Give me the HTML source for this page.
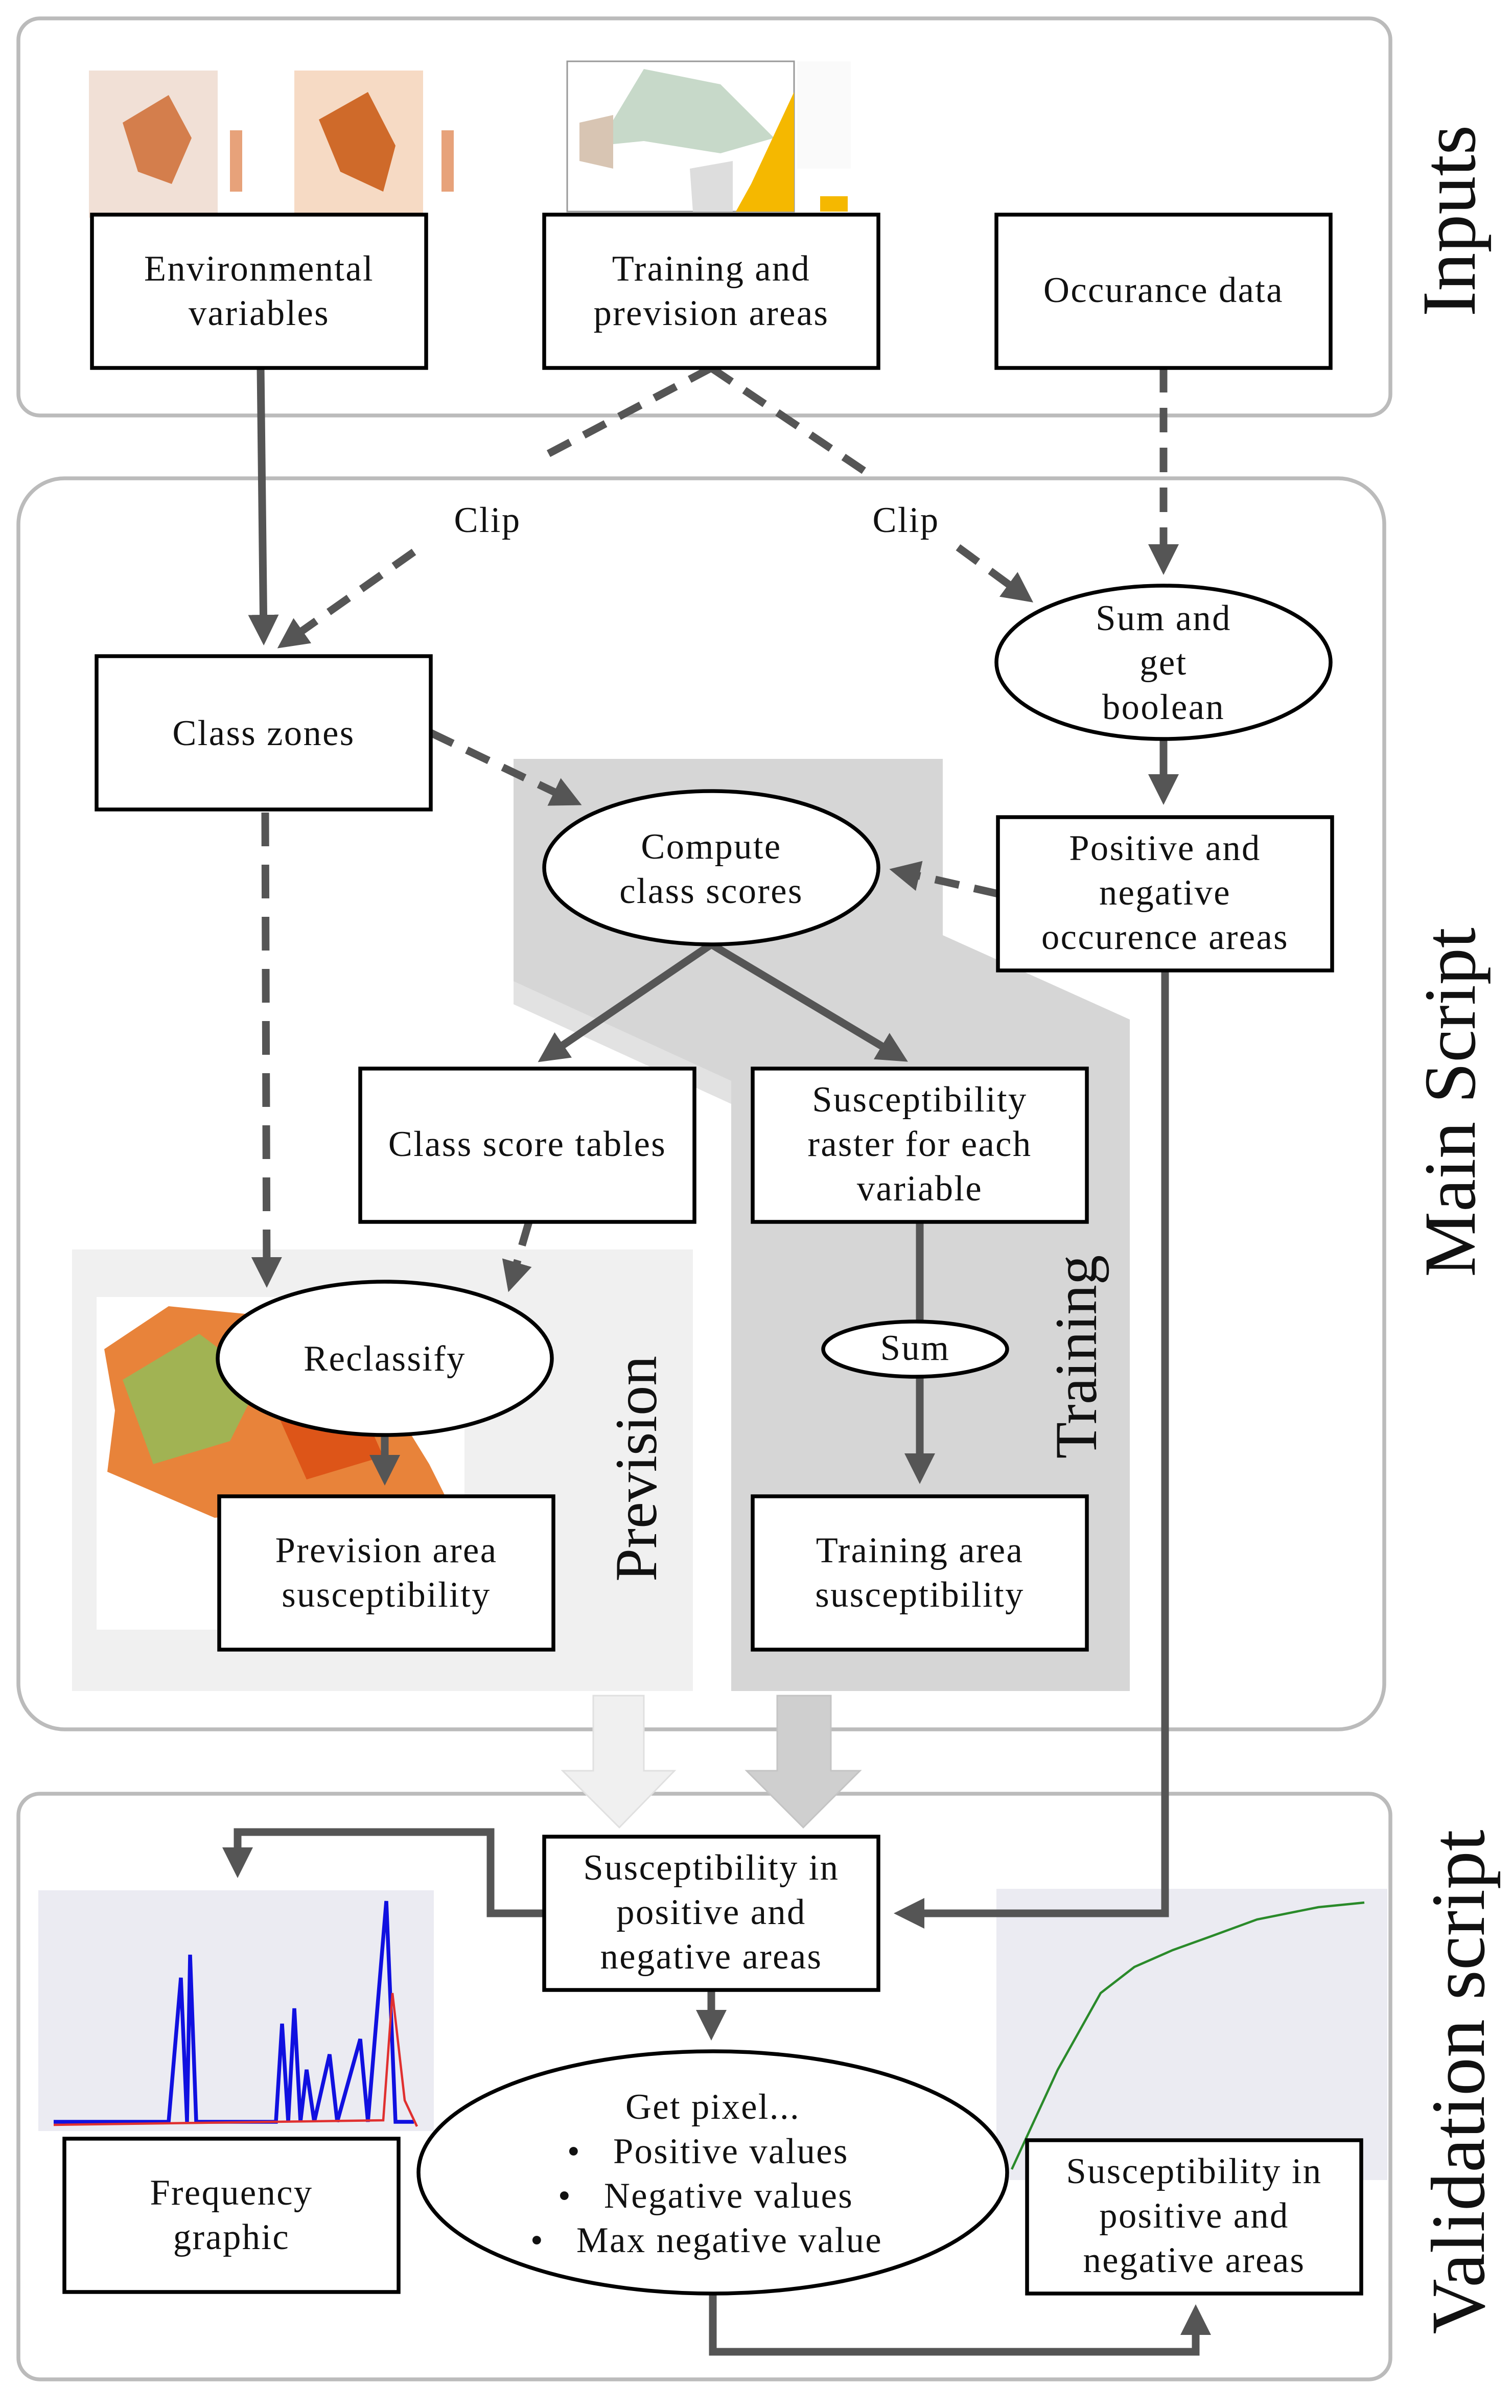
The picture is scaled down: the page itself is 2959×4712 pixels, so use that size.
<!DOCTYPE html>
<html><head><meta charset="utf-8"><style>
html,body{margin:0;padding:0;background:#fff}
svg{display:block}
text{font-family:"Liberation Serif",serif;fill:#111}
</style></head><body>
<svg width="2959" height="4712" viewBox="0 0 986.33 1570.67" xmlns="http://www.w3.org/2000/svg">
<defs>
<marker id="ah" markerWidth="4" markerHeight="4" refX="3" refY="2" orient="auto" markerUnits="strokeWidth"><path d="M0,0 L4,2 L0,4 z" fill="#555"/></marker>
</defs>
<!-- panels -->
<rect x="12" y="12" width="895" height="259" rx="14" fill="#fff" stroke="#bbb" stroke-width="2.5"/>
<rect x="12" y="312" width="891" height="816" rx="30" fill="#fff" stroke="#bbb" stroke-width="2.5"/>
<rect x="12" y="1170" width="895" height="382" rx="14" fill="#fff" stroke="#bbb" stroke-width="2.5"/>
<text transform="translate(962,144) rotate(-90)" font-size="50" text-anchor="middle">Inputs</text>
<text transform="translate(962,719) rotate(-90)" font-size="48" text-anchor="middle">Main Script</text>
<text transform="translate(968,1358) rotate(-90)" font-size="50" text-anchor="middle">Validation script</text>

<!-- input images -->
<rect x="58" y="46" width="84" height="96" fill="#f1e0d6"/>
<path d="M80,80 L110,62 L125,90 L112,120 L90,112 Z" fill="#d47e4c"/>
<rect x="192" y="46" width="84" height="96" fill="#f6dac4"/>
<path d="M208,78 L240,60 L258,95 L250,125 L222,112 Z" fill="#cf6a2a"/>
<rect x="150" y="85" width="8" height="40" fill="#e7a27a"/>
<rect x="288" y="85" width="8" height="40" fill="#e7a27a"/>
<rect x="370" y="40" width="148" height="98" fill="#fff" stroke="#999"/>
<path d="M390,95 L420,45 L470,55 L505,90 L470,100 L420,92 Z" fill="#c7d9c9"/>
<path d="M378,80 L400,75 L400,110 L378,105 Z" fill="#d8c5b3"/>
<path d="M490,120 L518,60 L518,138 L480,138 Z" fill="#f5b800"/>
<path d="M450,110 L478,105 L478,138 L452,138 Z" fill="#ddd"/>
<rect x="520" y="40" width="35" height="70" fill="#fafafa"/>
<rect x="535" y="128" width="18" height="10" fill="#f5b800"/>

<!-- main script shading -->
<rect x="47" y="815" width="405" height="288" fill="#f0f0f0"/>
<polygon points="335,495 615,495 615,610 737,665 737,1103 477,1103 477,720 335,655" fill="#d6d6d6"/>
<polygon points="335,655 477,720 477,705 335,640" fill="#e2e2e2"/>
<rect x="63" y="846" width="240" height="217" fill="#fff"/>
<path d="M68,880 L110,852 L170,858 L240,890 L280,955 L290,975 L240,975 L200,985 L140,990 L105,975 L70,960 L75,920 Z" fill="#e8833a"/>
<path d="M80,900 L130,870 L170,900 L150,940 L100,955 Z" fill="#8fbf5a" opacity="0.8"/>
<path d="M180,920 L230,905 L250,950 L200,965 Z" fill="#d94a10" opacity="0.8"/>

<!-- charts -->
<rect x="25" y="1233" width="258" height="157" fill="#ebebf2"/>
<polyline points="35,1384 110,1384 118,1290 122,1384 124,1275 128,1384 180,1384 184,1320 188,1384 192,1310 196,1384 200,1350 205,1384 215,1340 220,1384 235,1330 240,1384 252,1240 258,1384 270,1384" fill="none" stroke="#1010e0" stroke-width="2.5"/>
<polyline points="35,1386 250,1383 256,1300 264,1370 272,1387" fill="none" stroke="#e03030" stroke-width="1.5"/>
<rect x="650" y="1232" width="255" height="190" fill="#ebebf2"/>
<polyline points="660,1415 690,1350 718,1300 740,1283 765,1272 790,1263 820,1252 860,1244 890,1241" fill="none" stroke="#2a8a2a" stroke-width="1.5"/>

<!-- connectors -->
<g stroke="#555" stroke-width="5" fill="none">
<line x1="170" y1="240" x2="172" y2="416" marker-end="url(#ah)"/>
<polyline points="464,240 350,300" stroke-dasharray="16,10"/>
<line x1="270" y1="360" x2="185" y2="420" stroke-dasharray="16,10" marker-end="url(#ah)"/>
<polyline points="464,240 565,308" stroke-dasharray="16,10"/>
<line x1="625" y1="357" x2="670" y2="390" stroke-dasharray="16,10" marker-end="url(#ah)"/>
<line x1="759" y1="240" x2="759" y2="370" stroke-dasharray="16,10" marker-end="url(#ah)"/>
<line x1="759" y1="482" x2="759" y2="520" marker-end="url(#ah)"/>
<line x1="651" y1="583" x2="585" y2="568" stroke-dasharray="16,10" marker-end="url(#ah)"/>
<line x1="281" y1="478" x2="375" y2="523" stroke-dasharray="16,10" marker-end="url(#ah)"/>
<line x1="173" y1="530" x2="174" y2="835" stroke-dasharray="22,12" marker-end="url(#ah)"/>
<line x1="464" y1="616" x2="355" y2="690" marker-end="url(#ah)"/>
<line x1="464" y1="616" x2="588" y2="690" marker-end="url(#ah)"/>
<line x1="345" y1="797" x2="333" y2="838" stroke-dasharray="16,10" marker-end="url(#ah)"/>
<line x1="251" y1="936" x2="251" y2="964" marker-end="url(#ah)"/>
<line x1="600" y1="797" x2="600" y2="862"/>
<line x1="600" y1="898" x2="600" y2="963" marker-end="url(#ah)"/>
<polyline points="760,633 760,1248 588,1248" marker-end="url(#ah)"/>
<polyline points="355,1248 320,1248 320,1195 155,1195 155,1220" marker-end="url(#ah)"/>
<line x1="464" y1="1298" x2="464" y2="1326" marker-end="url(#ah)"/>
<polyline points="465,1496 465,1534 780,1534 780,1508" marker-end="url(#ah)"/>
</g>
<text x="318" y="347" font-size="23.5" letter-spacing="0.8" text-anchor="middle">Clip</text>
<text x="591" y="347" font-size="23.5" letter-spacing="0.8" text-anchor="middle">Clip</text>

<!-- big arrows -->
<polygon points="387,1106 420,1106 420,1155 440,1155 404,1192 367,1155 387,1155" fill="#f0f0f0" stroke="#e0e0e0"/>
<polygon points="507,1106 542,1106 542,1155 561,1155 524,1192 487,1155 507,1155" fill="#cfcfcf" stroke="#c4c4c4"/>

<!-- nodes -->
<g stroke="#000" stroke-width="2.5" fill="#fff">
<rect x="60" y="140" width="218" height="100"/>
<rect x="355" y="140" width="218" height="100"/>
<rect x="650" y="140" width="218" height="100"/>
<rect x="63" y="428" width="218" height="100"/>
<ellipse cx="759" cy="432" rx="109" ry="50"/>
<rect x="651" y="533" width="218" height="100"/>
<ellipse cx="464" cy="566" rx="109" ry="50"/>
<rect x="235" y="697" width="218" height="100"/>
<rect x="491" y="697" width="218" height="100"/>
<ellipse cx="251" cy="886" rx="109" ry="50"/>
<rect x="143" y="976" width="218" height="100"/>
<ellipse cx="597" cy="880" rx="60" ry="18"/>
<rect x="491" y="976" width="218" height="100"/>
<rect x="355" y="1198" width="218" height="100"/>
<rect x="42" y="1395" width="218" height="100"/>
<ellipse cx="465" cy="1417" rx="192" ry="79"/>
<rect x="670" y="1396" width="218" height="100"/>
</g>
<g font-size="23.5" letter-spacing="0.8" text-anchor="middle">
<text x="169" y="183">Environmental</text><text x="169" y="212">variables</text>
<text x="464" y="183">Training and</text><text x="464" y="212">prevision areas</text>
<text x="759" y="197">Occurance data</text>
<text x="172" y="486">Class zones</text>
<text x="759" y="411">Sum and</text><text x="759" y="440">get</text><text x="759" y="469">boolean</text>
<text x="760" y="561">Positive and</text><text x="760" y="590">negative</text><text x="760" y="619">occurence areas</text>
<text x="464" y="560">Compute</text><text x="464" y="589">class scores</text>
<text x="344" y="754">Class score tables</text>
<text x="600" y="725">Susceptibility</text><text x="600" y="754">raster for each</text><text x="600" y="783">variable</text>
<text x="251" y="894">Reclassify</text>
<text x="252" y="1019">Prevision area</text><text x="252" y="1048">susceptibility</text>
<text x="597" y="887">Sum</text>
<text x="600" y="1019">Training area</text><text x="600" y="1048">susceptibility</text>
<text x="464" y="1226">Susceptibility in</text><text x="464" y="1255">positive and</text><text x="464" y="1284">negative areas</text>
<text x="151" y="1438">Frequency</text><text x="151" y="1467">graphic</text>
<text x="779" y="1424">Susceptibility in</text><text x="779" y="1453">positive and</text><text x="779" y="1482">negative areas</text>
<text x="465" y="1382">Get pixel...</text>
</g>
<g font-size="23.5" letter-spacing="0.8">
<text x="370" y="1411">•</text><text x="400" y="1411">Positive values</text>
<text x="364" y="1440">•</text><text x="394" y="1440">Negative values</text>
<text x="346" y="1469">•</text><text x="376" y="1469">Max negative value</text>
</g>
<text transform="translate(428,958) rotate(-90)" font-size="39" text-anchor="middle">Prevision</text>
<text transform="translate(715,885) rotate(-90)" font-size="39" text-anchor="middle">Training</text>
</svg>
</body></html>
